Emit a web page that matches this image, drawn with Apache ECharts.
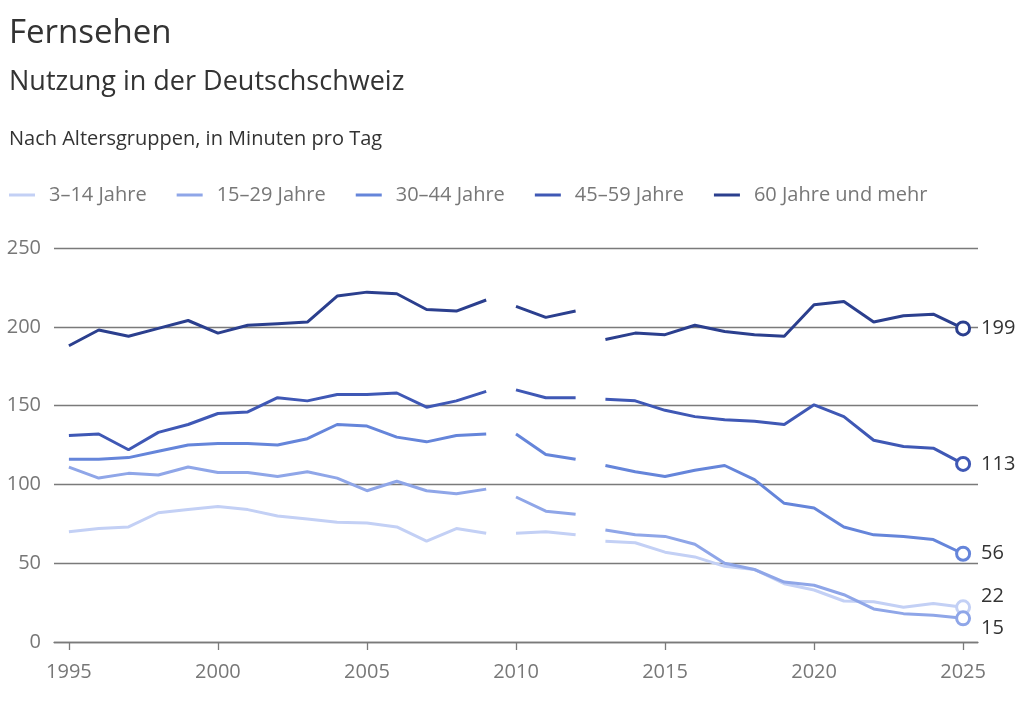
<!DOCTYPE html>
<html>
<head>
<meta charset="utf-8">
<script src="https://cdn.jsdelivr.net/npm/echarts@6/dist/echarts.min.js"></script>
<style>
html,body{margin:0;padding:0;background:#fff;}
#c{width:1024px;height:708px;}
</style>
</head>
<body>
<div id="c"></div>
<script>
const years = [];
for (let y = 1995; y <= 2025; y++) years.push(String(y));

const seriesNames = ['3–14 Jahre', '15–29 Jahre', '30–44 Jahre', '45–59 Jahre', '60 Jahre und mehr'];
const seriesColors = ['#c3d0f5', '#8fa6e8', '#6585da', '#3f58b5', '#2b3f8e'];

const age3to14 = [70, 72, 73, 82, 84, 86, 84, 80, 78, 76, 75.5, 73, 64, 72, 69,
                  69, 70, 68,
                  64, 63, 57, 54, 48, 46, 37, 33, 26, 25.5, 22, 24.5, 22];
const age15to29 = [111, 104, 107, 106, 111, 107.5, 107.5, 105, 108, 104, 96, 102, 96, 94, 97,
                   92, 83, 81,
                   71, 68, 67, 62, 50, 46, 38, 36, 30, 21, 18, 17, 15];
const age30to44 = [116, 116, 117, 121, 125, 126, 126, 125, 129, 138, 137, 130, 127, 131, 132,
                   132, 119, 116,
                   112, 108, 105, 109, 112, 103, 88, 85, 73, 68, 67, 65, 56];
const age45to59 = [131, 132, 122, 133, 138, 145, 146, 155, 153, 157, 157, 158, 149, 153, 159,
                   160, 155, 155,
                   154, 153, 147, 143, 141, 140, 138, 150.5, 143, 128, 124, 123, 113];
const age60plus = [188, 198, 194, 199, 204, 196, 201, 202, 203, 219.5, 222, 221, 211, 210, 217,
                   213, 206, 210,
                   192, 196, 195, 201, 197, 195, 194, 214, 216, 203, 207, 208, 199];

// survey method breaks: segments of years drawn as separate lines
const segments = [['1995', '2009'], ['2010', '2012'], ['2013', '2025']];
const endLabelOffsets = [[0, -11], [0, 10], [0, 0], [0, 0], [0, 0]];

const allValues = [age3to14, age15to29, age30to44, age45to59, age60plus];

const series = [];
allValues.forEach((vals, g) => {
  segments.forEach((seg, s) => {
    const i0 = years.indexOf(seg[0]), i1 = years.indexOf(seg[1]);
    const data = years.map((y, i) => {
      if (i < i0 || i > i1) return null;
      if (i === years.length - 1) {
        return {
          value: vals[i],
          symbol: 'circle',
          symbolSize: 13,
          itemStyle: { color: '#fff', borderColor: seriesColors[g], borderWidth: 3 },
          label: {
            show: true, position: 'right', distance: 10,
            offset: endLabelOffsets[g],
            formatter: String(Math.round(vals[i])),
            color: '#333', fontSize: 20, fontFamily: 'Open Sans'
          }
        };
      }
      return vals[i];
    });
    series.push({
      name: seriesNames[g],
      type: 'line',
      data: data,
      symbol: 'none',
      showSymbol: true,
      connectNulls: false,
      lineStyle: { width: 3, color: seriesColors[g] },
      itemStyle: { color: seriesColors[g] },
      z: 2 + g,
      silent: true
    });
  });
});

const chart = echarts.init(document.getElementById('c'), null, { renderer: 'canvas' });
chart.setOption({
  animation: false,
  backgroundColor: '#fff',
  color: seriesColors,
  title: [
    { text: 'Fernsehen', left: 4, top: 12, textStyle: { fontFamily: 'Open Sans', fontSize: 33, fontWeight: 'normal', color: '#333' } },
    { text: 'Nutzung in der Deutschschweiz', left: 4, top: 64, textStyle: { fontFamily: 'Open Sans', fontSize: 27, fontWeight: 'normal', color: '#333' } },
    { text: 'Nach Altersgruppen, in Minuten pro Tag', left: 4, top: 124, textStyle: { fontFamily: 'Open Sans', fontSize: 20, fontWeight: 'normal', color: '#333' } }
  ],
  legend: {
    data: seriesNames,
    left: 4,
    top: 180,
    icon: 'rect',
    itemWidth: 26,
    itemHeight: 3,
    itemGap: 30,
    textStyle: { fontFamily: 'Open Sans', fontSize: 20, color: '#777', padding: [0, 0, 0, 9] }
  },
  grid: { left: 54, right: 46, top: 248, bottom: 66, containLabel: false },
  xAxis: {
    type: 'category',
    data: years,
    boundaryGap: true,
    axisLine: { show: true, lineStyle: { color: '#7a7a7a', width: 1.3 } },
    axisTick: { show: true, interval: 4, alignWithLabel: true, length: 8, lineStyle: { color: '#7a7a7a', width: 1.3 } },
    axisLabel: { interval: 4, margin: 20, fontFamily: 'Open Sans', fontSize: 20, color: '#777' },
    splitLine: { show: false }
  },
  yAxis: {
    type: 'value',
    min: 0, max: 250, interval: 50,
    axisLine: { show: false },
    axisTick: { show: false },
    axisLabel: { margin: 13, fontFamily: 'Open Sans', fontSize: 20, color: '#777' },
    splitLine: { show: true, lineStyle: { color: '#7a7a7a', width: 1.3 } }
  },
  series: series
});
</script>
</body>
</html>
